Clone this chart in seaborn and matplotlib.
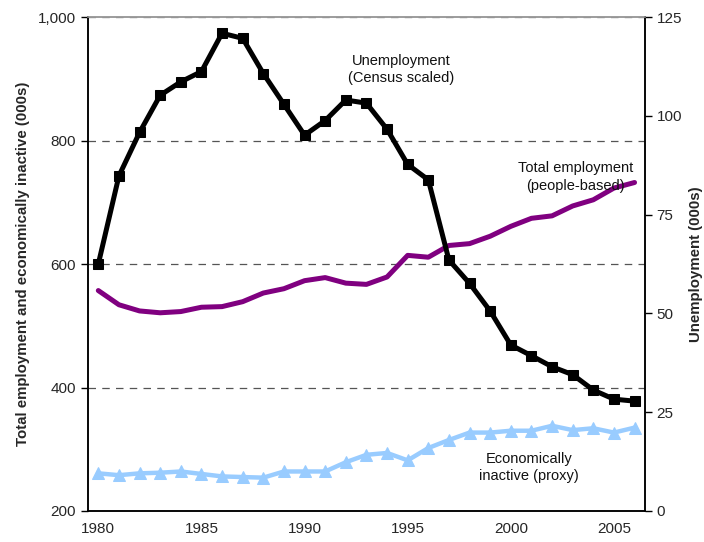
import numpy as np
import pandas as pd
import matplotlib
matplotlib.use("Agg")
import matplotlib.pyplot as plt
import seaborn as sns
from matplotlib.ticker import FuncFormatter, FixedLocator


years = list(range(1980, 2007))

# unemployment, census scaled (000s) - right axis
unemployment = [62.5, 84.8, 95.8, 105.2, 108.6, 111.2, 120.9, 119.6, 110.7, 102.9,
                95.1, 98.8, 104.0, 103.2, 96.6, 87.7, 83.8, 63.5, 57.6, 50.6,
                42.0, 39.3, 36.5, 34.5, 30.6, 28.3, 27.8]

# total employment, people-based (000s) - left axis
employment = [557, 534, 524, 521, 523, 530, 531, 539, 553, 560,
              573, 578, 569, 567, 579, 614, 611, 630, 633, 645,
              661, 674, 678, 694, 704, 723, 732]

# economically inactive, proxy (000s) - left axis
inactive = [261, 258, 261, 262, 264, 260, 256, 255, 254, 264,
            264, 264, 279, 291, 294, 282, 302, 315, 327, 327,
            330, 330, 338, 331, 334, 327, 335]

df = pd.DataFrame({
    "year": years,
    "unemployment": unemployment,
    "employment": employment,
    "inactive": inactive,
})

sns.set_style("white")
plt.rcParams["font.family"] = ["Liberation Sans", "DejaVu Sans"]

fig = plt.figure(figsize=(7.04, 5.42), dpi=100)
ax = fig.add_axes([0.125, 0.0572, 0.791, 0.9114])
ax2 = ax.twinx()

# left axis series
sns.lineplot(data=df, x="year", y="employment", ax=ax, color="#800080",
             linewidth=3.6)
sns.lineplot(data=df, x="year", y="inactive", ax=ax, color="#99CCFF",
             linewidth=3.2, marker="^", markersize=8,
             markeredgecolor="#99CCFF", markerfacecolor="#99CCFF")

# right axis series
sns.lineplot(data=df, x="year", y="unemployment", ax=ax2, color="black",
             linewidth=3.6, marker="s", markersize=7,
             markeredgecolor="black", markerfacecolor="black")

ax.set_xlim(1979.5, 2006.5)
ax.set_ylim(200, 1000)
ax2.set_ylim(0, 125)

ax.set_yticks([200, 400, 600, 800, 1000])
ax.yaxis.set_major_formatter(FuncFormatter(lambda v, p: f"{int(v):,}"))
ax2.set_yticks([0, 25, 50, 75, 100, 125])

# category-style axis: labels every 5 years, tick marks between years
ax.set_xticks([1980, 1985, 1990, 1995, 2000, 2005])
ax.xaxis.set_minor_locator(FixedLocator(np.arange(1979.5, 2007, 1)))
ax.tick_params(axis="x", which="major", length=0, labelsize=11, pad=8)
ax.tick_params(axis="x", which="minor", length=5, width=1, direction="out", color="black")
ax.tick_params(axis="y", which="major", length=5, width=1, direction="out", labelsize=11, color="black")
ax2.tick_params(axis="y", which="major", length=5, width=1, direction="out", labelsize=11, color="black")

ax.grid(False)
ax2.grid(False)
ax.yaxis.grid(True, linestyle=(0, (6, 5)), color="#555555", linewidth=0.9)

for a in (ax, ax2):
    a.spines["left"].set_color("black")
    a.spines["right"].set_color("black")
    a.spines["bottom"].set_color("black")
    a.spines["top"].set_color("#999999")
    for s in a.spines.values():
        s.set_linewidth(1.1)

ax.set_xlabel("")
ax.set_ylabel("Total employment and economically inactive (000s)",
              fontsize=10.8, fontweight="bold", labelpad=6)
ax2.set_ylabel("Unemployment (000s)", fontsize=10.8, fontweight="bold", labelpad=5)

ax.text(1994.7, 915, "Unemployment\n(Census scaled)", ha="center", va="center",
        fontsize=10.5, linespacing=1.3, color="#111111")
ax.text(2003.15, 741, "Total employment\n(people-based)", ha="center", va="center",
        fontsize=10.5, linespacing=1.3, color="#111111")
ax.text(2000.9, 270, "Economically\ninactive (proxy)", ha="center", va="center",
        fontsize=10.5, linespacing=1.3, color="#111111")

fig.savefig("out.png", dpi=100)
